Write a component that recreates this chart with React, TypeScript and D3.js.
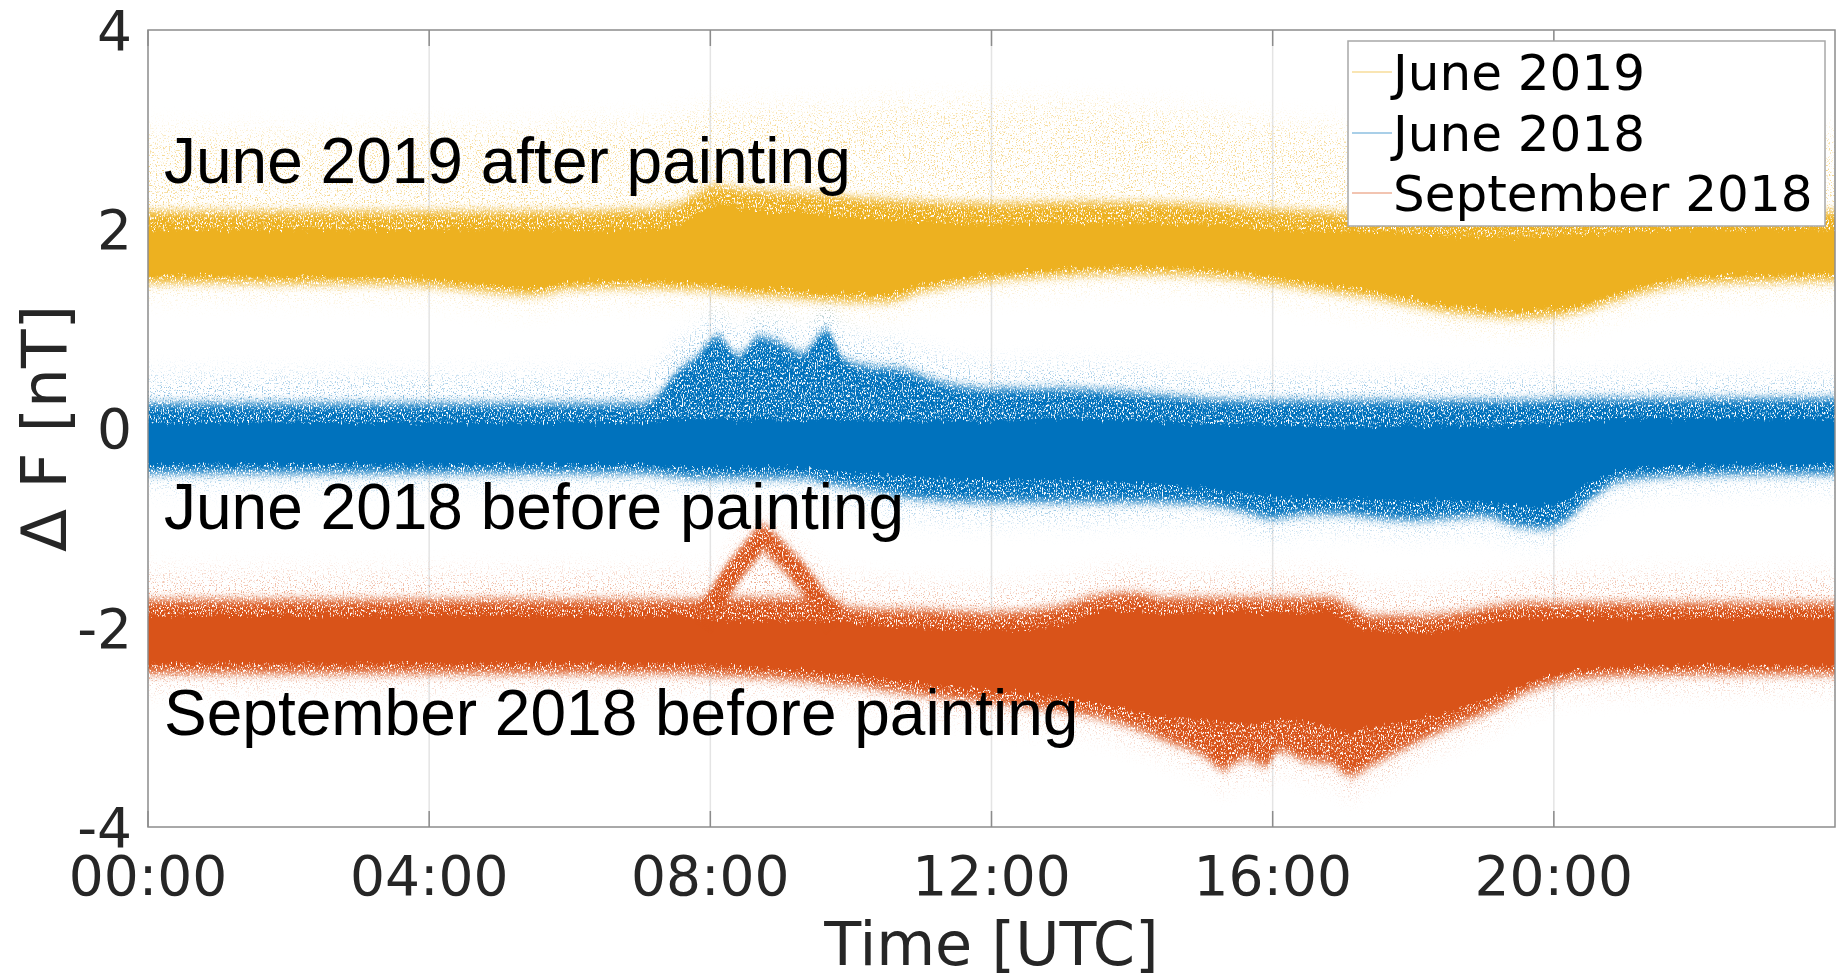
import React from "react";
import * as d3 from "d3";

// ---------- page and frame geometry ----------
const WIDTH = 1843;
const HEIGHT = 980;
const FRAME = { left: 148, right: 1835, top: 30, bottom: 827 };

// ---------- axes ----------
const timeDomain = [0, 24];
const deltaDomain = [-4, 4];
const timeTicks = [0, 4, 8, 12, 16, 20];
const timeTickLabels = ["00:00", "04:00", "08:00", "12:00", "16:00", "20:00"];
const deltaTicks = [-4, -2, 0, 2, 4];
const deltaTickLabels = ["-4", "-2", "0", "2", "4"];

// ---------- legend / labels ----------
const legendLabels = ["June 2019", "June 2018", "September 2018"];
const seriesColors = ["#EDB120", "#0072BD", "#D95319"];
const annotationTexts = [
  "June 2019 after painting",
  "June 2018 before painting",
  "September 2018 before painting",
];

// ---------- June 2019: envelope of the scatter cloud (nT) ----------
const june2019Hours = [0, 1, 2, 3, 4, 5, 5.5, 6, 7, 7.5, 7.8, 8.1, 8.5, 9, 9.5, 10, 10.5, 11, 12, 13, 14, 15, 16, 17, 17.5, 18, 18.5, 19, 19.5, 20, 20.5, 21, 21.5, 22, 23, 24];
const june2019OuterHi = [2.95, 2.95, 2.95, 2.95, 3.0, 3.0, 3.0, 3.05, 3.05, 3.1, 3.15, 3.2, 3.2, 3.2, 3.2, 3.2, 3.25, 3.25, 3.25, 3.25, 3.2, 3.15, 3.05, 3.0, 2.95, 2.95, 2.95, 2.95, 2.95, 2.95, 2.95, 2.95, 2.95, 2.95, 2.95, 2.95];
const june2019MidHi = [2.18, 2.18, 2.18, 2.18, 2.18, 2.18, 2.18, 2.18, 2.2, 2.24, 2.36, 2.44, 2.4, 2.38, 2.36, 2.32, 2.3, 2.28, 2.26, 2.27, 2.27, 2.25, 2.2, 2.17, 2.16, 2.14, 2.12, 2.11, 2.11, 2.12, 2.14, 2.16, 2.17, 2.18, 2.18, 2.18];
const june2019CoreHi = [2.0, 2.0, 2.0, 2.0, 2.0, 2.0, 2.0, 2.0, 2.0, 2.02, 2.15, 2.24, 2.2, 2.18, 2.16, 2.12, 2.1, 2.08, 2.05, 2.06, 2.06, 2.05, 2.0, 1.98, 1.97, 1.95, 1.93, 1.92, 1.92, 1.93, 1.95, 1.97, 1.99, 2.0, 2.0, 2.0];
const june2019CoreLo = [1.53, 1.53, 1.52, 1.52, 1.5, 1.43, 1.41, 1.47, 1.48, 1.47, 1.46, 1.44, 1.41, 1.39, 1.36, 1.34, 1.34, 1.44, 1.55, 1.6, 1.62, 1.6, 1.52, 1.42, 1.37, 1.3, 1.24, 1.2, 1.18, 1.2, 1.27, 1.38, 1.47, 1.52, 1.54, 1.55];
const june2019MidLo = [1.46, 1.46, 1.45, 1.45, 1.43, 1.36, 1.34, 1.4, 1.41, 1.4, 1.39, 1.37, 1.34, 1.32, 1.29, 1.27, 1.27, 1.37, 1.48, 1.53, 1.55, 1.53, 1.45, 1.35, 1.3, 1.23, 1.17, 1.13, 1.11, 1.13, 1.2, 1.31, 1.4, 1.45, 1.47, 1.48];
const june2019OuterLo = [1.37, 1.37, 1.36, 1.36, 1.34, 1.27, 1.25, 1.31, 1.32, 1.31, 1.3, 1.28, 1.25, 1.23, 1.2, 1.18, 1.18, 1.28, 1.39, 1.44, 1.46, 1.44, 1.36, 1.26, 1.21, 1.14, 1.08, 1.04, 1.02, 1.04, 1.11, 1.22, 1.31, 1.36, 1.38, 1.39];

// ---------- June 2018 ----------
const june2018Hours = [0, 1, 2, 3, 4, 5, 6, 7, 7.25, 7.5, 7.8, 8.1, 8.4, 8.7, 9.0, 9.3, 9.65, 9.9, 10.3, 10.7, 11.2, 12, 13, 14, 15, 15.5, 16, 16.5, 17, 17.5, 18, 18.5, 19, 19.5, 19.8, 20.1, 20.5, 21, 22, 23, 24];
const june2018OuterHi = [0.5, 0.5, 0.5, 0.5, 0.5, 0.5, 0.5, 0.5, 0.6, 0.8, 0.95, 1.1, 0.95, 1.1, 1.05, 0.95, 1.15, 0.95, 0.85, 0.82, 0.7, 0.6, 0.6, 0.58, 0.5, 0.48, 0.48, 0.48, 0.48, 0.48, 0.48, 0.48, 0.48, 0.48, 0.48, 0.48, 0.48, 0.48, 0.48, 0.48, 0.48];
const june2018MidHi = [0.25, 0.25, 0.25, 0.25, 0.25, 0.25, 0.25, 0.25, 0.33, 0.55, 0.72, 0.92, 0.74, 0.92, 0.86, 0.76, 0.98, 0.7, 0.62, 0.6, 0.48, 0.4, 0.4, 0.36, 0.3, 0.28, 0.28, 0.28, 0.28, 0.28, 0.28, 0.28, 0.28, 0.28, 0.28, 0.3, 0.3, 0.3, 0.3, 0.3, 0.3];
const june2018CoreHi = [0.06, 0.06, 0.06, 0.06, 0.06, 0.06, 0.06, 0.06, 0.07, 0.1, 0.1, 0.1, 0.08, 0.1, 0.08, 0.08, 0.1, 0.08, 0.08, 0.08, 0.08, 0.08, 0.1, 0.08, 0.05, 0.04, 0.04, 0.03, 0.02, 0.02, 0.02, 0.03, 0.03, 0.03, 0.04, 0.05, 0.08, 0.1, 0.1, 0.1, 0.1];
const june2018CoreLo = [-0.36, -0.36, -0.36, -0.36, -0.36, -0.36, -0.36, -0.36, -0.37, -0.38, -0.4, -0.4, -0.4, -0.4, -0.4, -0.4, -0.42, -0.44, -0.46, -0.48, -0.5, -0.52, -0.52, -0.55, -0.6, -0.64, -0.68, -0.7, -0.7, -0.72, -0.72, -0.72, -0.74, -0.78, -0.78, -0.74, -0.56, -0.42, -0.37, -0.36, -0.36];
const june2018MidLo = [-0.45, -0.45, -0.45, -0.45, -0.45, -0.45, -0.45, -0.45, -0.46, -0.48, -0.5, -0.5, -0.5, -0.5, -0.5, -0.5, -0.55, -0.58, -0.62, -0.68, -0.72, -0.74, -0.74, -0.74, -0.76, -0.82, -0.9, -0.86, -0.86, -0.9, -0.92, -0.9, -0.88, -0.98, -1.0, -0.95, -0.72, -0.52, -0.47, -0.46, -0.46];
const june2018OuterLo = [-0.55, -0.55, -0.55, -0.55, -0.55, -0.55, -0.55, -0.55, -0.56, -0.58, -0.6, -0.6, -0.6, -0.6, -0.6, -0.6, -0.66, -0.7, -0.76, -0.84, -0.88, -0.9, -0.9, -0.88, -0.88, -0.94, -1.04, -0.98, -0.98, -1.0, -1.02, -1.0, -1.0, -1.08, -1.1, -1.05, -0.82, -0.62, -0.56, -0.55, -0.55];

// ---------- September 2018 ----------
const sept2018Hours = [0, 1, 2, 3, 4, 5, 6, 7, 7.5, 7.8, 8.1, 8.4, 8.75, 9.1, 9.4, 9.75, 10, 10.5, 11, 12, 13, 13.5, 14, 14.5, 15, 15.3, 15.6, 15.9, 16.1, 16.5, 16.8, 17.1, 17.4, 17.8, 18.2, 18.7, 19.2, 19.6, 20.1, 20.5, 21, 22, 23, 24];
const sept2018OuterHi = [-1.48, -1.48, -1.48, -1.48, -1.48, -1.48, -1.48, -1.48, -1.48, -1.5, -1.4, -1.15, -0.98, -1.12, -1.3, -1.5, -1.55, -1.58, -1.6, -1.62, -1.56, -1.5, -1.45, -1.5, -1.5, -1.5, -1.5, -1.5, -1.5, -1.5, -1.5, -1.55, -1.65, -1.65, -1.65, -1.6, -1.55, -1.52, -1.5, -1.5, -1.5, -1.5, -1.5, -1.5];
const sept2018MidHi = [-1.72, -1.72, -1.72, -1.72, -1.72, -1.72, -1.72, -1.72, -1.72, -1.72, -1.7, -1.7, -1.7, -1.7, -1.7, -1.72, -1.8, -1.82, -1.82, -1.85, -1.78, -1.68, -1.65, -1.7, -1.7, -1.7, -1.7, -1.7, -1.7, -1.7, -1.7, -1.78, -1.88, -1.88, -1.88, -1.84, -1.78, -1.75, -1.75, -1.75, -1.75, -1.75, -1.75, -1.75];
const sept2018CoreHi = [-1.88, -1.88, -1.88, -1.88, -1.88, -1.88, -1.88, -1.88, -1.88, -1.9, -1.93, -1.93, -1.93, -1.93, -1.93, -1.93, -1.95, -1.98, -2.0, -2.02, -1.97, -1.85, -1.82, -1.86, -1.85, -1.85, -1.85, -1.85, -1.85, -1.85, -1.85, -1.95, -2.03, -2.05, -2.05, -2.0, -1.93, -1.9, -1.9, -1.9, -1.9, -1.9, -1.9, -1.9];
const sept2018CoreLo = [-2.36, -2.36, -2.36, -2.36, -2.36, -2.36, -2.36, -2.36, -2.36, -2.37, -2.38, -2.39, -2.4, -2.42, -2.44, -2.47, -2.48, -2.52, -2.56, -2.63, -2.7, -2.76, -2.83, -2.9, -2.92, -2.95, -2.97, -2.95, -2.92, -2.95, -3.0, -3.05, -3.0, -2.95, -2.9, -2.8, -2.68, -2.56, -2.46, -2.42, -2.4, -2.38, -2.38, -2.38];
const sept2018MidLo = [-2.46, -2.46, -2.46, -2.46, -2.46, -2.46, -2.46, -2.46, -2.46, -2.47, -2.48, -2.49, -2.5, -2.52, -2.54, -2.57, -2.58, -2.63, -2.68, -2.76, -2.84, -2.9, -3.0, -3.14, -3.28, -3.42, -3.32, -3.38, -3.24, -3.34, -3.36, -3.48, -3.38, -3.24, -3.1, -2.95, -2.8, -2.65, -2.54, -2.5, -2.48, -2.47, -2.47, -2.47];
const sept2018OuterLo = [-2.58, -2.58, -2.58, -2.58, -2.58, -2.58, -2.58, -2.58, -2.58, -2.59, -2.6, -2.61, -2.62, -2.64, -2.66, -2.69, -2.7, -2.75, -2.8, -2.88, -2.96, -3.02, -3.12, -3.26, -3.4, -3.54, -3.46, -3.5, -3.38, -3.46, -3.5, -3.62, -3.52, -3.38, -3.22, -3.06, -2.92, -2.77, -2.66, -2.62, -2.6, -2.59, -2.59, -2.59];
// the inverted-V excursion around 08:00–10:00
const sept2018ArcHours = [7.9, 8.35, 8.75, 9.2, 9.75];
const sept2018ArcValues = [-1.9, -1.42, -1.08, -1.4, -1.9];

type Series = {
  key: string;
  color: string;
  hours: number[];
  outerHi: number[];
  midHi: number[];
  coreHi: number[];
  coreLo: number[];
  midLo: number[];
  outerLo: number[];
};

const series: Series[] = [
  { key: "jun19", color: seriesColors[0], hours: june2019Hours, outerHi: june2019OuterHi, midHi: june2019MidHi, coreHi: june2019CoreHi, coreLo: june2019CoreLo, midLo: june2019MidLo, outerLo: june2019OuterLo },
  { key: "jun18", color: seriesColors[1], hours: june2018Hours, outerHi: june2018OuterHi, midHi: june2018MidHi, coreHi: june2018CoreHi, coreLo: june2018CoreLo, midLo: june2018MidLo, outerLo: june2018OuterLo },
  { key: "sep18", color: seriesColors[2], hours: sept2018Hours, outerHi: sept2018OuterHi, midHi: sept2018MidHi, coreHi: sept2018CoreHi, coreLo: sept2018CoreLo, midLo: sept2018MidLo, outerLo: sept2018OuterLo },
];

// text placement (page pixels)
const ANNOTATION_X = 164;
const ANNOTATION_BASELINES = [183, 529, 735];
const LEGEND_BOX = { x: 1348, y: 41, w: 477, h: 185 };
const LEGEND_ROWS = [72, 133, 193];

const TICK_FONT = "'DejaVu Sans', sans-serif";
const NOTE_FONT = "'Liberation Sans', Arial, sans-serif";

export default function App() {
  const x = d3.scaleLinear().domain(timeDomain).range([FRAME.left, FRAME.right]);
  const y = d3.scaleLinear().domain(deltaDomain).range([FRAME.bottom, FRAME.top]);

  const band = (hours: number[], hi: number[], lo: number[]) => {
    const rows = hours.map((h, i) => ({ h, hi: hi[i], lo: lo[i] }));
    return (
      d3
        .area<{ h: number; hi: number; lo: number }>()
        .x((d) => x(d.h))
        .y0((d) => y(d.lo))
        .y1((d) => y(d.hi))
        .curve(d3.curveMonotoneX)(rows) || ""
    );
  };

  const arcPath =
    d3
      .line<number>()
      .x((_, i) => x(sept2018ArcHours[i]))
      .y((v) => y(v))
      .curve(d3.curveLinear)(sept2018ArcValues) || "";

  const fw = FRAME.right - FRAME.left;
  const fh = FRAME.bottom - FRAME.top;
  const filterBox = { x: FRAME.left - 10, y: FRAME.top - 60, width: fw + 20, height: fh + 120 };

  return (
    <div style={{ position: "absolute", left: 0, top: 0, width: WIDTH, height: HEIGHT, background: "#fff" }}>
      <svg width={WIDTH} height={HEIGHT} viewBox={`0 0 ${WIDTH} ${HEIGHT}`} style={{ display: "block" }}>
        <defs>
          <clipPath id="frameClip">
            <rect x={FRAME.left} y={FRAME.top} width={fw} height={fh} />
          </clipPath>
          {/* sparse scatter: soft vertical fade, masked by thresholded noise */}
          <filter id="speckleSparse" filterUnits="userSpaceOnUse" {...filterBox} colorInterpolationFilters="sRGB">
            <feGaussianBlur in="SourceGraphic" stdDeviation="0 13" result="soft" />
            <feTurbulence type="fractalNoise" baseFrequency="0.85 0.6" numOctaves={2} seed={11} result="n" />
            <feColorMatrix in="n" type="matrix" values="0 0 0 0 0  0 0 0 0 0  0 0 0 0 0  7 0 0 0 -4.0" result="m" />
            <feComposite in="soft" in2="m" operator="in" />
          </filter>
          {/* dense scatter hugging the band */}
          <filter id="speckleDense" filterUnits="userSpaceOnUse" {...filterBox} colorInterpolationFilters="sRGB">
            <feGaussianBlur in="SourceGraphic" stdDeviation="0 5" result="soft" />
            <feTurbulence type="fractalNoise" baseFrequency="0.85 0.4" numOctaves={2} seed={5} result="n" />
            <feColorMatrix in="n" type="matrix" values="0 0 0 0 0  0 0 0 0 0  0 0 0 0 0  6 0 0 0 -1.9" result="m" />
            <feComposite in="soft" in2="m" operator="in" />
          </filter>
          {/* solid core with ragged upper/lower edges */}
          <filter id="ragged" filterUnits="userSpaceOnUse" {...filterBox} colorInterpolationFilters="sRGB">
            <feTurbulence type="fractalNoise" baseFrequency="0.45 0.05" numOctaves={2} seed={3} result="t" />
            <feColorMatrix in="t" type="matrix" values="0 0 0 0 0.5  0 1 0 0 0  0 0 0 0 0  0 0 0 0 1" result="d" />
            <feDisplacementMap in="SourceGraphic" in2="d" scale={14} xChannelSelector="R" yChannelSelector="G" />
          </filter>
        </defs>

        {/* vertical grid */}
        <g>
          {timeTicks
            .filter((t) => t > timeDomain[0])
            .map((t) => (
              <line key={`g${t}`} x1={x(t)} x2={x(t)} y1={FRAME.top} y2={FRAME.bottom} stroke="#e4e4e4" strokeWidth={1.5} />
            ))}
        </g>

        {/* scatter bands */}
        <g clipPath="url(#frameClip)">
          {series.map((s) => (
            <g key={s.key}>
              <path d={band(s.hours, s.outerHi, s.outerLo)} fill={s.color} filter="url(#speckleSparse)" opacity={0.5} />
              <path d={band(s.hours, s.midHi, s.midLo)} fill={s.color} filter="url(#speckleDense)" />
              <path d={band(s.hours, s.coreHi, s.coreLo)} fill={s.color} filter="url(#ragged)" />
              {s.key === "sep18" && (
                <path d={arcPath} fill="none" stroke={s.color} strokeWidth={20} strokeLinejoin="round" filter="url(#speckleDense)" />
              )}
            </g>
          ))}
        </g>

        {/* frame and ticks */}
        <rect x={FRAME.left} y={FRAME.top} width={fw} height={fh} fill="none" stroke="#8c8c8c" strokeWidth={1.5} />
        {timeTicks.map((t) => (
          <g key={`t${t}`}>
            <line x1={x(t)} x2={x(t)} y1={FRAME.bottom} y2={FRAME.bottom - 16} stroke="#8c8c8c" strokeWidth={1.5} />
            <line x1={x(t)} x2={x(t)} y1={FRAME.top} y2={FRAME.top + 16} stroke="#8c8c8c" strokeWidth={1.5} />
          </g>
        ))}

        {/* tick labels */}
        <g fontFamily={TICK_FONT} fontSize={55} fill="#262626">
          {timeTicks.map((t, i) => (
            <text key={`xl${t}`} x={x(t)} y={895} textAnchor="middle">
              {timeTickLabels[i]}
            </text>
          ))}
          {deltaTicks.map((v, i) => (
            <text key={`yl${v}`} x={FRAME.left - 16} y={y(v)} dy="0.36em" textAnchor="end">
              {deltaTickLabels[i]}
            </text>
          ))}
        </g>

        {/* axis titles */}
        <text x={(FRAME.left + FRAME.right) / 2} y={965} textAnchor="middle" fontFamily={TICK_FONT} fontSize={60.5} fill="#262626">
          Time [UTC]
        </text>
        <text
          transform={`translate(66, ${(FRAME.top + FRAME.bottom) / 2}) rotate(-90)`}
          textAnchor="middle"
          fontFamily={TICK_FONT}
          fontSize={63}
          fill="#262626"
        >
          Δ F [nT]
        </text>

        {/* in-plot annotations */}
        <g fontFamily={NOTE_FONT} fontSize={64} fill="#000">
          {annotationTexts.map((t, i) => (
            <text key={t} x={ANNOTATION_X} y={ANNOTATION_BASELINES[i]}>
              {t}
            </text>
          ))}
        </g>

        {/* legend */}
        <g>
          <rect x={LEGEND_BOX.x} y={LEGEND_BOX.y} width={LEGEND_BOX.w} height={LEGEND_BOX.h} fill="#fff" stroke="#a8a8a8" strokeWidth={1.5} />
          {legendLabels.map((lab, i) => (
            <g key={lab}>
              <line x1={LEGEND_BOX.x + 4} x2={LEGEND_BOX.x + 44} y1={LEGEND_ROWS[i]} y2={LEGEND_ROWS[i]} stroke={seriesColors[i]} strokeOpacity={0.45} strokeWidth={1.5} />
              <text x={LEGEND_BOX.x + 45} y={LEGEND_ROWS[i]} dy="0.36em" fontFamily={TICK_FONT} fontSize={50} fill="#000">
                {lab}
              </text>
            </g>
          ))}
        </g>
      </svg>
    </div>
  );
}
